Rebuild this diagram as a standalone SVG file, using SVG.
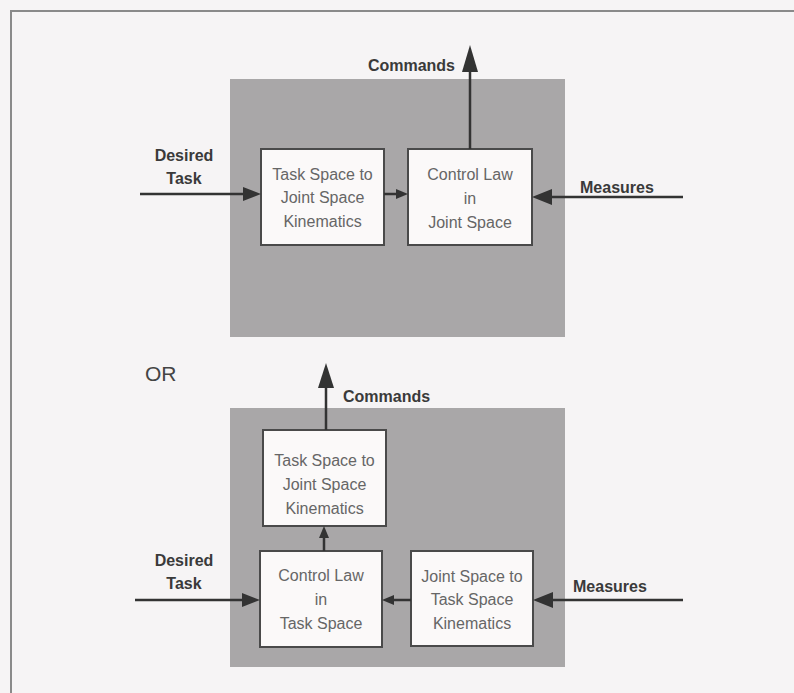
<svg xmlns="http://www.w3.org/2000/svg" width="794" height="693" viewBox="0 0 794 693">
<style>
.panel{fill:#a9a7a8;}
.box{fill:#fbf9f9;stroke:#4a4a4a;stroke-width:2;}
.bt{font-family:"Liberation Sans",Arial,sans-serif;font-size:16px;fill:#666;text-anchor:middle;}
.lb{font-family:"Liberation Sans",Arial,sans-serif;font-size:16px;font-weight:bold;fill:#3a3a3a;}
.ln{stroke:#333;stroke-width:2.5;fill:none;}
.ah{fill:#333;}
</style>
<rect x="0" y="0" width="794" height="693" fill="#f6f4f5"/>
<path d="M11 693 V11 H794" fill="none" stroke="#8a8a8a" stroke-width="2"/>
<g id="panel-top"><rect class="panel" x="230" y="79" width="335" height="258"/></g>
<g id="panel-bottom"><rect class="panel" x="230" y="408" width="335" height="259"/></g>
<g id="n1"><rect class="box" x="261" y="149" width="123" height="96"/>
<text class="bt" x="322.5" y="180">Task Space to</text><text class="bt" x="322.5" y="203">Joint Space</text><text class="bt" x="322.5" y="227">Kinematics</text></g>
<g id="n2"><rect class="box" x="408" y="149" width="124" height="96"/>
<text class="bt" x="470" y="180">Control Law</text><text class="bt" x="470" y="204">in</text><text class="bt" x="470" y="228">Joint Space</text></g>
<g id="n3"><rect class="box" x="263" y="430" width="123" height="96"/>
<text class="bt" x="324.5" y="466">Task Space to</text><text class="bt" x="324.5" y="490">Joint Space</text><text class="bt" x="324.5" y="514">Kinematics</text></g>
<g id="n4"><rect class="box" x="260" y="551" width="122" height="96"/>
<text class="bt" x="321" y="581">Control Law</text><text class="bt" x="321" y="605">in</text><text class="bt" x="321" y="629">Task Space</text></g>
<g id="n5"><rect class="box" x="411" y="551" width="122" height="95"/>
<text class="bt" x="472" y="582">Joint Space to</text><text class="bt" x="472" y="605">Task Space</text><text class="bt" x="472" y="629">Kinematics</text></g>
<g id="connectors">
<line class="ln" x1="140" y1="194" x2="246" y2="194"/><polygon class="ah" points="261,194 243,187 243,201"/>
<line class="ln" x1="384" y1="194" x2="398" y2="194"/><polygon class="ah" points="408,194 396,189 396,199"/>
<line class="ln" x1="470" y1="149" x2="470" y2="70"/><polygon class="ah" points="470,45 462,72 478,72"/>
<line class="ln" x1="683" y1="197" x2="550" y2="197"/><polygon class="ah" points="532,197 552,189 552,205"/>
<line class="ln" x1="326" y1="430" x2="326" y2="386"/><polygon class="ah" points="326,363 318,388 334,388"/>
<line class="ln" x1="324" y1="551" x2="324" y2="536"/><polygon class="ah" points="324,526 319,538 329,538"/>
<line class="ln" x1="135" y1="600" x2="244" y2="600"/><polygon class="ah" points="260,600 242,593 242,607"/>
<line class="ln" x1="411" y1="600" x2="392" y2="600"/><polygon class="ah" points="382,600 394,595 394,605"/>
<line class="ln" x1="683" y1="600" x2="551" y2="600"/><polygon class="ah" points="533,600 553,592 553,608"/>
</g>
<g id="labels">
<text class="lb" x="455" y="71" text-anchor="end">Commands</text>
<text class="lb" x="184" y="161" text-anchor="middle">Desired</text>
<text class="lb" x="184" y="184" text-anchor="middle">Task</text>
<text class="lb" x="580" y="193">Measures</text>
<text x="145" y="381" font-family="Liberation Sans,Arial,sans-serif" font-size="21" fill="#444">OR</text>
<text class="lb" x="343" y="402">Commands</text>
<text class="lb" x="184" y="566" text-anchor="middle">Desired</text>
<text class="lb" x="184" y="589" text-anchor="middle">Task</text>
<text class="lb" x="573" y="592">Measures</text>
</g>
</svg>
